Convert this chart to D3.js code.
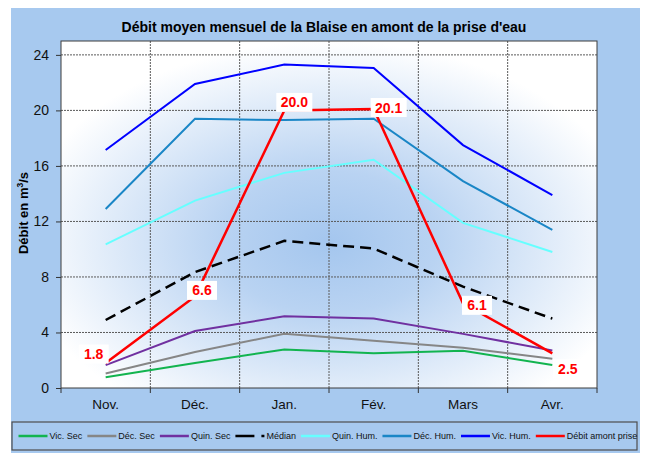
<!DOCTYPE html>
<meta charset="utf-8">
<style>
  body { margin: 0; background: #fff; }
  text { font-family: Arial, "Liberation Sans", sans-serif; }
</style>

<!-- Load d3.js -->
<script src="https://d3js.org/d3.v7.min.js"></script>

<!-- Create a div where the graph will take place -->
<div id="my_dataviz"></div>

<script>

    // months on the x axis
    var months = ["Nov.", "Déc.", "Jan.", "Fév.", "Mars", "Avr."];

    // series values (m3/s)
    var vicSec   = [0.77, 1.8, 2.78, 2.5, 2.68, 1.65];
    var decSec   = [1.05, 2.6, 3.9, 3.4, 2.9, 2.1];
    var quinSec  = [1.65, 4.1, 5.17, 5.0, 3.9, 2.7];
    var median   = [4.9, 8.35, 10.6, 10.05, 7.3, 5.0];
    var quinHum  = [10.35, 13.5, 15.5, 16.45, 11.9, 9.8];
    var decHum   = [12.9, 19.4, 19.3, 19.4, 14.9, 11.4];
    var vicHum   = [17.15, 21.9, 23.3, 23.05, 17.5, 13.9];
    var debitAmont = [1.8, 6.6, 20.0, 20.1, 6.1, 2.5];

    var yTicks = [0, 4, 8, 12, 16, 20, 24];

    var series = [
        {name: "Vic. Sec", values: vicSec, color: "#12b44f", width: 2},
        {name: "Déc. Sec", values: decSec, color: "#868686", width: 2},
        {name: "Quin. Sec", values: quinSec, color: "#7030a0", width: 2},
        {name: "Médian", values: median, color: "#000000", width: 2.5, dash: "11,6"},
        {name: "Quin. Hum.", values: quinHum, color: "#66ffff", width: 2},
        {name: "Déc. Hum.", values: decHum, color: "#1a86c6", width: 2},
        {name: "Vic. Hum.", values: vicHum, color: "#0000ff", width: 2},
        {name: "Débit amont prise", values: debitAmont, color: "#ff0000", width: 2.5}
    ];

    // where each red value label sits, relative to its point
    var labelOffset = [[-12, -9], [7, -6], [10, -8], [15, -1.5], [14, 2], [15.5, 15.5]];

    // set the dimensions and margins of the graph
    var W = 645, H = 457;
    var margin = {top: 41, right: 48, bottom: 69, left: 61},
        width = W - margin.left - margin.right,
        height = H - margin.top - margin.bottom;

    var root = d3.select("#my_dataviz")
        .append("svg")
        .attr("width", W)
        .attr("height", H);

    // blue frame round the whole chart
    root.append("rect")
        .attr("x", 11).attr("y", 8)
        .attr("width", 629).attr("height", 445)
        .style("fill", "#a7c9ef");

    // radial glow behind the plot
    var grad = root.append("defs").append("radialGradient")
        .attr("id", "glow")
        .attr("cx", 0.5).attr("cy", 0.58).attr("r", 0.58);
    grad.append("stop").attr("offset", "0%").attr("stop-color", "#a4c6ee");
    grad.append("stop").attr("offset", "35%").attr("stop-color", "#b9d3f2");
    grad.append("stop").attr("offset", "100%").attr("stop-color", "#ffffff");

    // title
    root.append("text")
        .attr("x", 324)
        .attr("y", 32)
        .attr("text-anchor", "middle")
        .style("font-size", "14px")
        .style("font-weight", "bold")
        .text("Débit moyen mensuel de la Blaise en amont de la prise d'eau");

    var svg = root.append("g")
        .attr("transform", "translate(" + margin.left + "," + margin.top + ")");

    svg.append("rect")
        .attr("width", width)
        .attr("height", height)
        .style("fill", "url(#glow)");

    // scales
    var x = d3.scaleBand()
        .domain(months)
        .range([0, width]);

    var y = d3.scaleLinear()
        .domain([0, 25])
        .range([height, 0]);

    var xc = function(i) { return x(months[i]) + x.bandwidth() / 2; };

    // horizontal grid
    svg.append("g")
        .selectAll("line")
        .data(yTicks.filter(function(d) { return d > 0; }))
        .enter()
        .append("line")
        .attr("x1", 0).attr("x2", width)
        .attr("y1", function(d) { return y(d); })
        .attr("y2", function(d) { return y(d); })
        .attr("stroke", "#5a5a5a")
        .attr("stroke-width", 1)
        .attr("stroke-dasharray", "2,1");

    // vertical grid at month boundaries
    svg.append("g")
        .selectAll("line")
        .data(months.slice(1))
        .enter()
        .append("line")
        .attr("x1", function(d) { return x(d); })
        .attr("x2", function(d) { return x(d); })
        .attr("y1", 0).attr("y2", height)
        .attr("stroke", "#5a5a5a")
        .attr("stroke-width", 1)
        .attr("stroke-dasharray", "2,1");

    // Y axis
    var yAxis = svg.append("g")
        .call(d3.axisLeft(y).tickValues(yTicks).tickSize(5).tickPadding(7));
    yAxis.select(".domain").remove();
    yAxis.selectAll("text").style("font-size", "14px").style("fill", "#111");
    yAxis.selectAll(".tick line").attr("stroke", "#333");

    // X axis: ticks at boundaries, labels centred
    var xAxis = svg.append("g")
        .attr("transform", "translate(0," + height + ")");
    xAxis.selectAll("line.tk")
        .data(d3.range(months.length + 1))
        .enter()
        .append("line")
        .attr("class", "tk")
        .attr("x1", function(d) { return d * x.bandwidth(); })
        .attr("x2", function(d) { return d * x.bandwidth(); })
        .attr("y1", 0).attr("y2", 5)
        .attr("stroke", "#333");
    xAxis.selectAll("text")
        .data(months)
        .enter()
        .append("text")
        .attr("x", function(d, i) { return xc(i); })
        .attr("y", 21)
        .attr("text-anchor", "middle")
        .style("font-size", "13.5px")
        .style("fill", "#111")
        .text(function(d) { return d; });

    // plot border
    svg.append("rect")
        .attr("width", width)
        .attr("height", height)
        .style("fill", "none")
        .style("stroke", "#3c3c3c")
        .style("stroke-width", 1);

    // Y axis label
    var ylab = root.append("text")
        .attr("transform", "translate(28," + (margin.top + 172) + ") rotate(-90)")
        .attr("text-anchor", "middle")
        .style("font-size", "13px")
        .style("font-weight", "bold");
    ylab.append("tspan").text("Débit en m");
    ylab.append("tspan").attr("dy", -5).style("font-size", "8.5px").text("3");
    ylab.append("tspan").attr("dy", 5).text("/s");

    // lines
    var line = d3.line()
        .x(function(d, i) { return xc(i); })
        .y(function(d) { return y(d); });

    svg.append("g")
        .selectAll("path")
        .data(series)
        .enter()
        .append("path")
        .attr("d", function(d) { return line(d.values); })
        .attr("fill", "none")
        .attr("stroke", function(d) { return d.color; })
        .attr("stroke-width", function(d) { return d.width; })
        .attr("stroke-dasharray", function(d) { return d.dash || null; });

    // red value labels on white boxes
    var lab = svg.append("g")
        .selectAll("g")
        .data(debitAmont)
        .enter()
        .append("g")
        .attr("transform", function(d, i) {
            return "translate(" + (xc(i) + labelOffset[i][0]) + "," + (y(d) + labelOffset[i][1]) + ")";
        });
    lab.append("rect")
        .attr("x", function(d) { return d >= 10 ? -18 : -15; })
        .attr("y", -9.5)
        .attr("width", function(d) { return d >= 10 ? 36 : 30; })
        .attr("height", 19)
        .style("fill", "#fff");
    lab.append("text")
        .attr("text-anchor", "middle")
        .attr("y", 5)
        .style("font-size", "14px")
        .style("font-weight", "bold")
        .style("fill", "#ff0000")
        .text(function(d) { return d.toFixed(1); });

    // legend
    root.append("rect")
        .attr("x", 12).attr("y", 422)
        .attr("width", 625).attr("height", 28)
        .style("fill", "none")
        .style("stroke", "#4d4d4d")
        .style("stroke-width", 1.2);

    var lx = 18.5, ly = 436;
    series.forEach(function(s) {
        root.append("line")
            .attr("x1", lx).attr("x2", lx + 29)
            .attr("y1", ly).attr("y2", ly)
            .attr("stroke", s.color)
            .attr("stroke-width", 2.5)
            .attr("stroke-dasharray", s.dash ? "19,7" : null);
        var t = root.append("text")
            .attr("x", lx + 31)
            .attr("y", ly + 3.3)
            .style("font-size", "9px")
            .style("fill", "#111")
            .text(s.name);
        lx = lx + 31 + t.node().getComputedTextLength() + 5;
    });

</script>
